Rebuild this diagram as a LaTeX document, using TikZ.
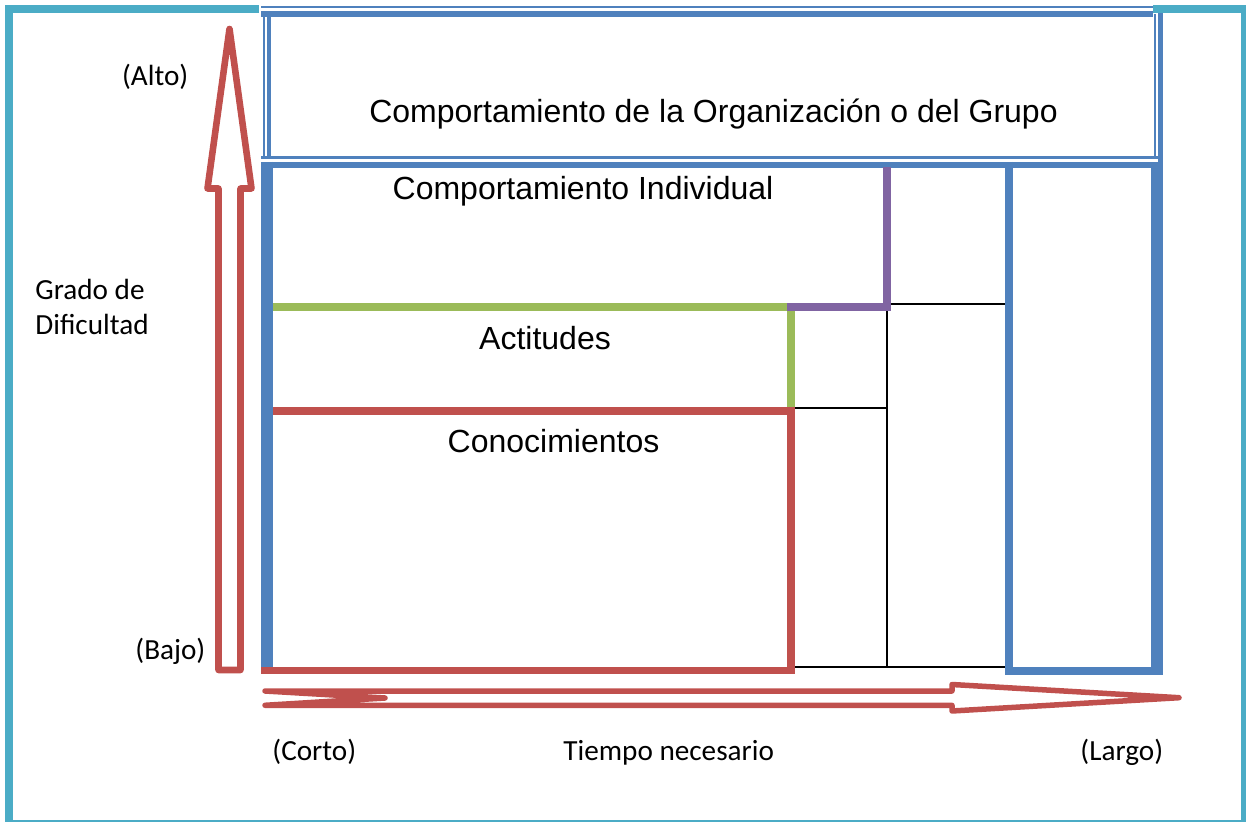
\documentclass[tikz,border=0pt]{standalone}
\usepackage{fontspec}
\setmainfont{Liberation Sans}
\newfontfamily\calibri{Carlito}
\usepackage{tikz}

\definecolor{azul}{HTML}{4F81BD}
\definecolor{rojo}{HTML}{C0504D}
\definecolor{verde}{HTML}{9BBB59}
\definecolor{morado}{HTML}{8064A2}
\definecolor{turquesa}{HTML}{4BACC6}

\begin{document}
\begin{tikzpicture}[x=0.5pt, y=-0.5pt, line join=miter,
		caja/.style={font=\fontsize{16}{19}\selectfont, inner sep=0pt, anchor=base},
		etiqueta/.style={font=\calibri\fontsize{14.6}{17}\selectfont, inner sep=0pt, anchor=base west}]
	\path[use as bounding box, clip] (0,0) rectangle (1246,822);
	
	% marco exterior
	\draw[turquesa, line width=4pt] (9,9.5) rectangle (1245,824);
	
	% caja de la organizacion (linea doble)
	\fill[white] (259,3) rectangle (1153,159);
	\draw[azul, line width=1.2pt] (261,7) -- (1153,7);
	\draw[azul, line width=2.8pt] (261,14) -- (1153,14);
	\draw[azul, line width=1.3pt] (264,14) -- (264,157);
	\draw[azul, line width=1.7pt] (269,14) -- (269,157);
	\draw[azul, line width=1pt] (1155,14) -- (1155,157);
	\draw[azul, line width=2.4pt] (1160.5,13.5) -- (1160.5,165);
	\draw[azul, line width=1.5pt] (261,157.5) -- (1158,157.5);
	
	% comportamiento individual
	\draw[azul, line width=6pt] (267,162) -- (267,667);
	\draw[azul, line width=3pt] (261,165) -- (1163,165);
	\draw[azul, line width=6pt] (1157,162) -- (1157,674.5);
	\draw[azul, line width=4pt] (1009,162) -- (1009,670.5) -- (1163,670.5);
	
	% lineas finas
	\draw[line width=1pt] (891,304) -- (1005,304);
	\draw[line width=1pt] (887,310) -- (887,667.3);
	\draw[line width=1pt] (794,407.7) -- (887,407.7);
	\draw[line width=1pt] (794,667.3) -- (1005,667.3);
	
	% actitudes, individual, conocimientos
	\draw[verde, line width=3.7pt] (273,307) -- (787,307);
	\draw[verde, line width=3.7pt] (791,309) -- (791,408);
	\draw[morado, line width=3.7pt] (787,307) -- (887,307) -- (887,167);
	\draw[rojo, line width=3.8pt] (273,411) -- (790.7,411) -- (790.7,670.5) -- (261,670.5);
	
	% flechas
	\draw[rojo, line width=3.3pt, line join=round] (229.5,29) -- (251.5,188.5) -- (240.5,188.5)
		-- (240.5,670) -- (218.5,670) -- (218.5,188.5) -- (207.5,188.5) -- cycle;
	\draw[rojo, line width=2.75pt, line join=round] (265,691) -- (952,691) -- (952,684.5)
		-- (1179,697.7) -- (952,711) -- (952,705.3) -- (265,705.3) -- (385,698) -- cycle;
	
	% textos
	\node[caja] (org) at (713.5,122.7) {Comportamiento de la Organización o del Grupo};
	\node[caja] (indiv) at (583,200) {Comportamiento Individual};
	\node[caja] (actit) at (545,350) {Actitudes};
	\node[caja] (conoc) at (553.5,453) {Conocimientos};
	
	\node[etiqueta] (alto) at (121.7,85.7) {(Alto)};
	\node[etiqueta] (grado) at (35,300) {Grado de};
	\node[etiqueta] (dific) at (35,335) {Dificultad};
	\node[etiqueta] (bajo) at (135,659) {(Bajo)};
	\node[etiqueta] (corto) at (272,760) {(Corto)};
	\node[etiqueta] (tiempo) at (563,760) {Tiempo necesario};
	\node[etiqueta] (largo) at (1080,760) {(Largo)};
\end{tikzpicture}
\end{document}
